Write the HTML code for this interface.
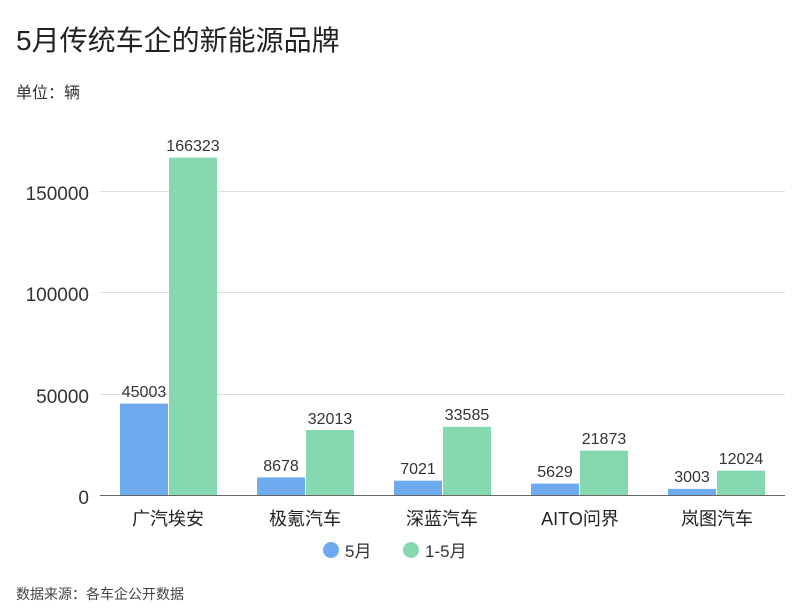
<!DOCTYPE html>
<html><head><meta charset="utf-8"><style>
body{margin:0;background:#fff;width:800px;height:606px;overflow:hidden;font-family:"Liberation Sans","Noto Sans CJK SC",sans-serif;}
</style></head><body>
<svg width="800" height="606" xmlns="http://www.w3.org/2000/svg" font-family="Liberation Sans, Noto Sans CJK SC, sans-serif">
<text x="16" y="50" font-size="28" fill="#222">5月传统车企的新能源品牌</text>
<text x="16" y="98" font-size="16" fill="#333">单位：辆</text>
<g stroke="#ddd" stroke-width="1">
<line x1="100" y1="191.5" x2="785" y2="191.5"/>
<line x1="100" y1="292.5" x2="785" y2="292.5"/>
<line x1="100" y1="394.5" x2="785" y2="394.5"/>
</g>
<line x1="100" y1="495.5" x2="785" y2="495.5" stroke="#666" stroke-width="1"/>
<g font-size="19" fill="#333" text-anchor="end">
<text x="89" y="200">150000</text>
<text x="89" y="301">100000</text>
<text x="89" y="403">50000</text>
<text x="89" y="504">0</text>
</g>
<g fill="#6eaaee">
<rect x="120" y="403.6" width="48" height="91.4"/>
<rect x="257" y="477.4" width="48" height="17.6"/>
<rect x="394" y="480.7" width="48" height="14.3"/>
<rect x="531" y="483.6" width="48" height="11.4"/>
<rect x="668" y="488.9" width="48" height="6.1"/>
</g>
<g fill="#86d8b0">
<rect x="169" y="157.6" width="48" height="337.4"/>
<rect x="306" y="430" width="48" height="65"/>
<rect x="443" y="426.8" width="48" height="68.2"/>
<rect x="580" y="450.6" width="48" height="44.4"/>
<rect x="717" y="470.6" width="48" height="24.4"/>
</g>
<g font-size="16" fill="#333" text-anchor="middle">
<text x="144" y="397">45003</text>
<text x="193" y="151">166323</text>
<text x="281" y="471">8678</text>
<text x="330" y="424">32013</text>
<text x="418" y="474">7021</text>
<text x="467" y="420">33585</text>
<text x="555" y="477">5629</text>
<text x="604" y="444">21873</text>
<text x="692" y="482">3003</text>
<text x="741" y="464">12024</text>
</g>
<g font-size="18" fill="#222" text-anchor="middle">
<text x="168" y="525">广汽埃安</text>
<text x="305" y="525">极氪汽车</text>
<text x="442" y="525">深蓝汽车</text>
<text x="580" y="525">AITO问界</text>
<text x="717" y="525">岚图汽车</text>
</g>
<circle cx="331" cy="550" r="8" fill="#6eaaee"/>
<text x="345" y="557" font-size="17" fill="#333">5月</text>
<circle cx="411" cy="550" r="8" fill="#86d8b0"/>
<text x="425" y="557" font-size="17" fill="#333">1-5月</text>
<text x="16" y="599" font-size="14" fill="#444">数据来源：各车企公开数据</text>
</svg>
</body></html>
